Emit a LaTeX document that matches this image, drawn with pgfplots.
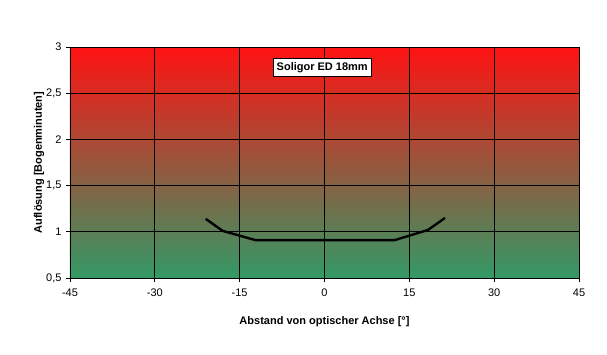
\documentclass[border=0pt]{standalone}
\usepackage{fontspec}
\setmainfont{Liberation Sans}
\usepackage{pgfplots}
\pgfplotsset{compat=1.18}
\definecolor{topred}{RGB}{255,18,18}
\definecolor{botgreen}{RGB}{51,153,102}
\begin{document}
\begin{tikzpicture}[x=1pt,y=1pt]
\useasboundingbox (-70,-76) rectangle (537,278);
\begin{axis}[
  at={(0,0)}, anchor=south west,
  scale only axis, width=509pt, height=231pt,
  xmin=-45, xmax=45, ymin=0.5, ymax=3,
  xtick={-45,-30,-15,0,15,30,45},
  ytick={0.5,1,1.5,2,2.5,3},
  /pgf/number format/use comma,
  /pgf/number format/assume math mode=true,
  grid=major,
  major grid style={black, line width=0.8pt},
  axis line style={black, line width=0.8pt},
  axis x line*=bottom, axis y line*=left,
  tick align=outside, tick style={black, line width=0.8pt},
  major tick length=4pt,
  tick label style={font=\fontsize{11}{13}\selectfont},
  xticklabel style={yshift=-3pt},
  yticklabel style={xshift=-1pt},
  xlabel={\textbf{Abstand von optischer Achse [°]}},
  ylabel={\textbf{Auflösung [Bogenminuten]}},
  label style={font=\fontsize{11}{13}\selectfont},
  xlabel style={yshift=-13pt},
  ylabel style={yshift=-5pt},
  axis background/.style={shade, top color=topred, bottom color=botgreen},
  clip=false,
]
\addplot[black, line width=2.4pt, line join=round] coordinates {
  (-21,1.14) (-18,1.01) (-12.2,0.91) (0,0.91) (12.4,0.91) (18.3,1.02) (21.3,1.15)
};
\node[draw=black, fill=white, line width=0.8pt, inner sep=3.5pt, font=\bfseries\fontsize{11}{13}\selectfont] at (axis cs:-0.4,2.78) {Soligor ED 18mm};
\end{axis}
\end{tikzpicture}
\end{document}
